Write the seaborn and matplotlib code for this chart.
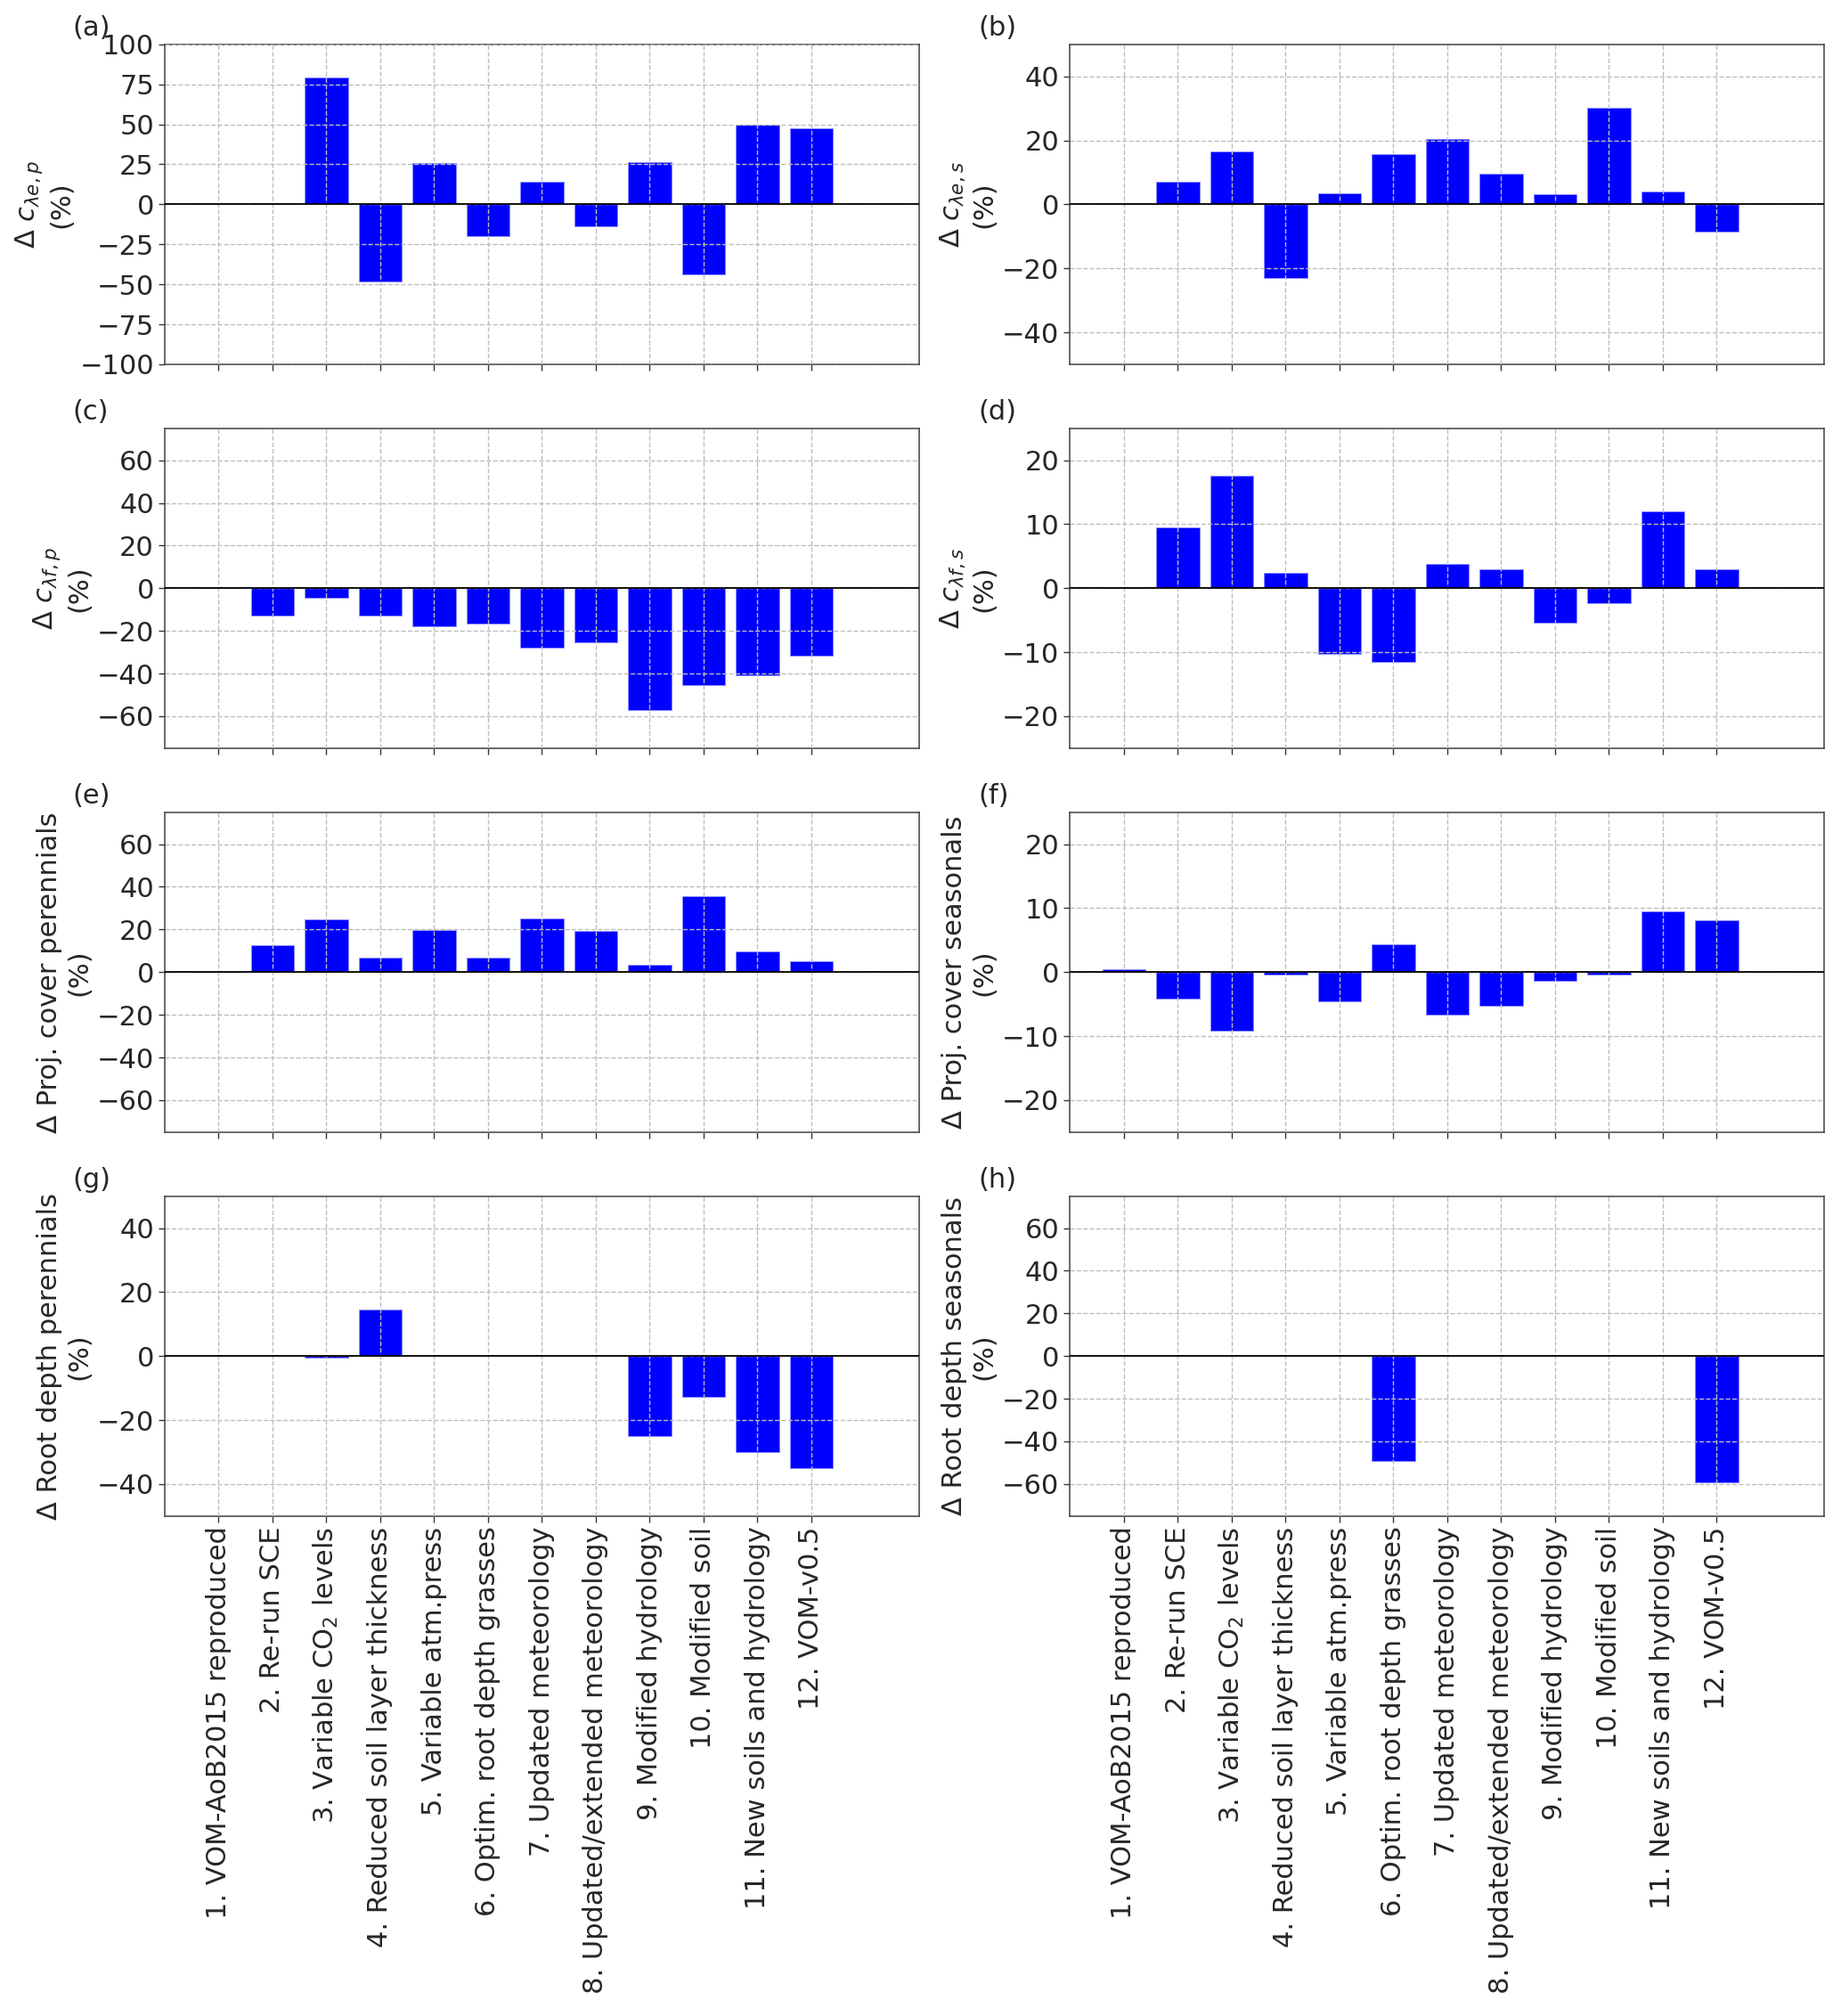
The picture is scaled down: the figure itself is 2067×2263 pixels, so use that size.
import matplotlib
matplotlib.use("Agg")
import matplotlib.pyplot as plt
import seaborn as sns
import pandas as pd

# experiment names (x axis)
steps = [
    "1. VOM-AoB2015 reproduced",
    "2. Re-run SCE",
    "3. Variable CO$_2$ levels",
    "4. Reduced soil layer thickness",
    "5. Variable atm.press",
    "6. Optim. root depth grasses",
    "7. Updated meteorology",
    "8. Updated/extended meteorology",
    "9. Modified hydrology",
    "10. Modified soil",
    "11. New soils and hydrology",
    "12. VOM-v0.5",
]
step_pos = list(range(1, 13))

# relative changes (%)
d_cle_p = [0, 0.5, 79.5, -48.5, 26, -20, 14, -14, 26.5, -43.8, 49.5, 47.5]
d_cle_s = [0, 7.1, 16.5, -23.1, 3.3, 15.8, 20.4, 9.7, 3.2, 30.2, 4.1, -8.5]
d_clf_p = [0, -12.8, -4.5, -12.8, -17.8, -16.7, -27.8, -25.3, -56.9, -45.3, -40.8, -31.7]
d_clf_s = [0, 9.5, 17.6, 2.4, -10.3, -11.5, 3.8, 2.9, -5.4, -2.3, 12.0, 3.0]
d_pc_p = [0, 12.5, 24.8, 6.7, 19.9, 6.7, 25.2, 19.5, 3.6, 35.5, 9.7, 5.3]
d_pc_s = [0.5, -4.2, -9.2, -0.35, -4.5, 4.3, -6.7, -5.2, -1.4, -0.45, 9.5, 8.1]
d_rd_p = [0, 0, -0.4, 14.6, 0, 0, 0, 0, -25.1, -12.8, -29.9, -34.9]
d_rd_s = [0, 0, 0, 0, 0, -49.1, 0, 0, 0, 0, 0, -59.2]

ylabels = [
    "Δ $c_{\\lambda e,p}$\n(%)",
    "Δ $c_{\\lambda e,s}$\n(%)",
    "Δ $c_{\\lambda f,p}$\n(%)",
    "Δ $c_{\\lambda f,s}$\n(%)",
    "Δ Proj. cover perennials\n(%)",
    "Δ Proj. cover seasonals\n(%)",
    "Δ Root depth perennials\n(%)",
    "Δ Root depth seasonals\n(%)",
]
panel_tags = ["(a)", "(b)", "(c)", "(d)", "(e)", "(f)", "(g)", "(h)"]
ylims = [100, 50, 75, 25, 75, 25, 50, 75]
ysteps = [25, 20, 20, 10, 20, 10, 20, 20]

series = [d_cle_p, d_cle_s, d_clf_p, d_clf_s, d_pc_p, d_pc_s, d_rd_p, d_rd_s]

sns.set_style("ticks")
plt.rcParams["font.family"] = ["DejaVu Sans"]
plt.rcParams["font.size"] = 22
plt.rcParams["mathtext.fontset"] = "dejavusans"

fig, axes = plt.subplots(4, 2, figsize=(20.67, 22.63), dpi=100)
fig.subplots_adjust(left=0.0894, right=0.991, top=0.978, bottom=0.248,
                    wspace=0.2, hspace=0.2)

for i, ax in enumerate(axes.flat):
    df = pd.DataFrame({"pos": step_pos, "val": series[i]})
    sns.barplot(data=df, x="pos", y="val", native_scale=True, ax=ax,
                color="blue", saturation=1, errorbar=None, width=0.8,
                edgecolor="#8c8cff", linewidth=0.6)
    ax.axhline(0, color="black", lw=1.3, zorder=3)

    lim = ylims[i]
    ax.set_ylim(-lim, lim)
    st = ysteps[i]
    ticks = list(range(-(lim // st) * st, lim + 1, st))
    ax.set_yticks(ticks)
    ax.set_xlim(0, 14)
    ax.set_xticks(step_pos)
    if i >= 6:
        ax.set_xticklabels(steps, rotation=90)
    else:
        ax.set_xticklabels([])
    ax.set_xlabel("")
    ax.set_ylabel(ylabels[i], fontsize=22)
    ax.tick_params(labelsize=22, width=1, length=5, color="0.2")

    # grid sits over the bars as in the original
    ax.set_axisbelow(False)
    ax.grid(True, color="#bdbdbd", linestyle="--", linewidth=1)
    for sp in ax.spines.values():
        sp.set_visible(True)
        sp.set_color("0.25")
        sp.set_linewidth(1.1)

    ax.text(-0.122, 1.01, panel_tags[i], transform=ax.transAxes,
            fontsize=22, va="bottom", ha="left")

fig.savefig("out.png", dpi=100)
